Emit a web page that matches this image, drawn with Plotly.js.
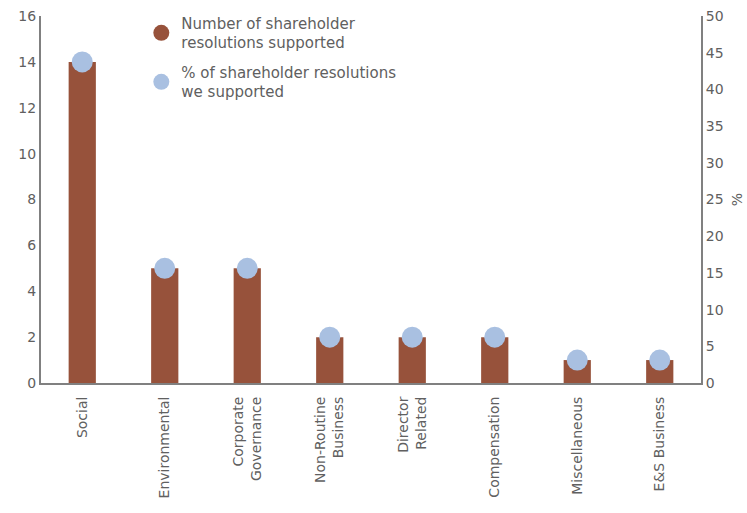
<!DOCTYPE html>
<html><head><meta charset="utf-8">
<script src="https://cdn.plot.ly/plotly-3.0.1.min.js"></script>
<style>body{margin:0;}#c{width:747px;height:513px;}</style>
</head><body><div id="c"></div>
<script>
const categories = ["Social","Environmental","Corporate<br>Governance","Non-Routine<br>Business","Director<br>Related","Compensation","Miscellaneous","E&S Business"];
const counts = [14,5,5,2,2,2,1,1];
const percents = [43.75,15.625,15.625,6.25,6.25,6.25,3.125,3.125];
const seriesNames = ["Number of shareholder<br>resolutions supported","% of shareholder resolutions<br>we supported"];
const barColor = "#97523b", dotColor = "#a9c0e1";
const fnt = {family:"'DejaVu Sans', sans-serif", size:14, color:"#606060"};
const data = [
 {type:"bar", x:categories, y:counts, name:seriesNames[0], marker:{color:barColor}, width:0.33, yaxis:"y", showlegend:false},
 {type:"scatter", mode:"markers", x:[null], y:[null], name:seriesNames[0], legendgroup:"a", marker:{color:barColor, size:17}, yaxis:"y"},
 {type:"scatter", mode:"markers", x:categories, y:percents, name:seriesNames[1], legendgroup:"b", marker:{color:dotColor, size:21}, yaxis:"y2"}
];
const layout = {
 width:747, height:513, margin:{l:41,r:46,t:16,b:130,autoexpand:false},
 paper_bgcolor:"#fff", plot_bgcolor:"#fff", font:fnt, showlegend:true,
 legend:{x:0.152, y:1.025, xanchor:"left", yanchor:"top", bgcolor:"rgba(0,0,0,0)", font:{...fnt,size:15}, tracegroupgap:7, itemsizing:"trace", itemwidth:30},
 xaxis:{range:[-0.5,7.5], tickangle:-90, showline:true, linecolor:"#808080", linewidth:2, ticks:"", showgrid:false, tickfont:{...fnt,size:14}, ticklabelstandoff:6},
 yaxis:{range:[0,16], dtick:2, showline:true, linecolor:"#808080", linewidth:2, showgrid:false, zeroline:false, ticks:"", tickfont:{...fnt,size:14}},
 yaxis2:{range:[0,50], dtick:5, overlaying:"y", side:"right", showline:true, linecolor:"#808080", linewidth:2, showgrid:false, zeroline:false, ticks:"", tickfont:{...fnt,size:14}, title:{text:"%", font:{...fnt,size:14}, standoff:10}}
};
Plotly.newPlot("c", data, layout, {displayModeBar:false, staticPlot:true});
</script></body></html>
